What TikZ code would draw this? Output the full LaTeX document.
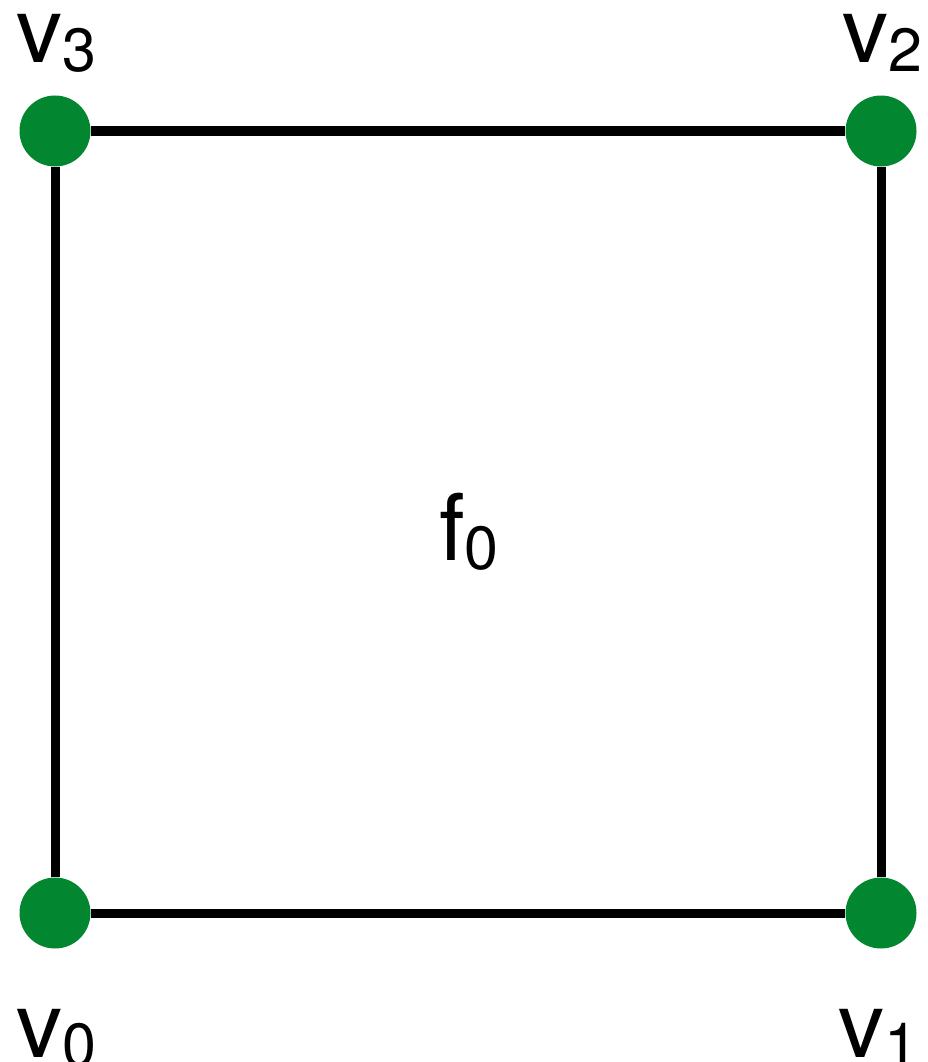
\documentclass[tikz,border=0pt]{standalone}
\usepackage{fontspec}
\setmainfont{TeX Gyre Heros}
\definecolor{vgreen}{RGB}{3,134,48}
\newcommand{\lab}[2]{\fontsize{92}{92}\selectfont #1\raisebox{-9pt}{\fontsize{61}{61}\selectfont #2}}

\begin{document}
\begin{tikzpicture}[x=1pt,y=-1pt,
	vertex/.style={circle, fill=vgreen, minimum size=71pt, inner sep=0pt},
	edge/.style={line width=9pt, black},
	vlabel/.style={anchor=base, inner sep=0pt}]
	\useasboundingbox (0,0) rectangle (927,1062);
	% corners
	\node[vertex] (v0) at (55,913) {};
	\node[vertex] (v1) at (881,913) {};
	\node[vertex] (v2) at (881,131) {};
	\node[vertex] (v3) at (55,131) {};
	% sides of the face
	\draw[edge] (v0) -- (v1);
	\draw[edge] (v1) -- (v2);
	\draw[edge] (v2) -- (v3);
	\draw[edge] (v3) -- (v0);
	% labels
	\node[vlabel] (l3) at (56,63) {\lab{v}{3}};
	\node[vlabel] (l2) at (882,63) {\lab{v}{2}};
	\node[vlabel] (l0) at (56,1057) {\lab{v}{0}};
	\node[vlabel] (l1) at (878,1057) {\lab{v}{1}};
	\node[vlabel] (f0) at (469,560) {\lab{f}{0}};
\end{tikzpicture}
\end{document}
